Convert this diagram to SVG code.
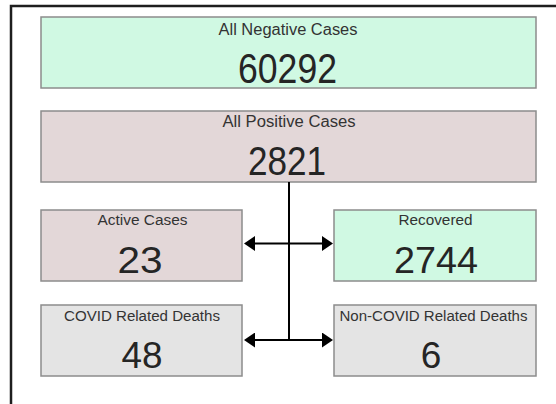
<svg xmlns="http://www.w3.org/2000/svg" width="556" height="404" viewBox="0 0 556 404">
<defs>
<style>
.frame{fill:none;stroke:#1e1e1e;stroke-width:2.5}
.box{stroke:#8c8c8c;stroke-width:1.5}
.green{fill:#d0f9e3}
.pink{fill:#e3d7d8}
.gray{fill:#e4e4e4}
.lbl{font-family:"Liberation Sans",Arial,sans-serif;font-size:14px;fill:#333;text-anchor:middle}
.big{font-size:16px}
.num{font-family:"Liberation Sans",Arial,sans-serif;font-size:37px;fill:#252525;text-anchor:middle}
.conn{fill:none;stroke:#000;stroke-width:2}
</style>
<marker id="ah" markerUnits="userSpaceOnUse" markerWidth="12" markerHeight="15" viewBox="0 0 12 15" refX="0" refY="7.5" orient="auto-start-reverse">
<path d="M0,0 L11,7.5 L0,15 z" fill="#000"/>
</marker>
</defs>
<rect width="556" height="404" fill="#ffffff"/>
<path class="frame" d="M11,404 V6 H556"/>
<g id="all-negative">
<rect class="box green" x="41" y="17" width="495" height="71"/>
<text class="lbl big" x="288" y="35" textLength="139" lengthAdjust="spacingAndGlyphs">All Negative Cases</text>
<text class="num" x="287.5" y="83" style="font-size:42px" textLength="99" lengthAdjust="spacingAndGlyphs">60292</text>
</g>
<g id="all-positive">
<rect class="box pink" x="41" y="111" width="495" height="71"/>
<text class="lbl big" x="289" y="127" textLength="133" lengthAdjust="spacingAndGlyphs">All Positive Cases</text>
<text class="num" x="287" y="175" style="font-size:40px" textLength="78" lengthAdjust="spacingAndGlyphs">2821</text>
</g>
<g id="active">
<rect class="box pink" x="41" y="210" width="201" height="71"/>
<text class="lbl" x="142.5" y="225" textLength="90" lengthAdjust="spacingAndGlyphs">Active Cases</text>
<text class="num" x="140" y="273" textLength="45" lengthAdjust="spacingAndGlyphs">23</text>
</g>
<g id="recovered">
<rect class="box green" x="334" y="210" width="202" height="71"/>
<text class="lbl" x="435.5" y="225" textLength="74" lengthAdjust="spacingAndGlyphs">Recovered</text>
<text class="num" x="436" y="273" textLength="84" lengthAdjust="spacingAndGlyphs">2744</text>
</g>
<g id="covid-deaths">
<rect class="box gray" x="41" y="305" width="201" height="71"/>
<text class="lbl" x="142" y="321" textLength="156" lengthAdjust="spacingAndGlyphs">COVID Related Deaths</text>
<text class="num" x="142" y="368" textLength="41" lengthAdjust="spacingAndGlyphs">48</text>
</g>
<g id="non-covid-deaths">
<rect class="box gray" x="334" y="305" width="202" height="71"/>
<text class="lbl" x="433.5" y="321" textLength="188" lengthAdjust="spacingAndGlyphs">Non-COVID Related Deaths</text>
<text class="num" x="431" y="368">6</text>
</g>
<g id="connectors">
<path class="conn" d="M289,182 V340"/>
<path class="conn" d="M255,243.5 H322" marker-start="url(#ah)" marker-end="url(#ah)"/>
<path class="conn" d="M255,340 H322" marker-start="url(#ah)" marker-end="url(#ah)"/>
</g>
</svg>
